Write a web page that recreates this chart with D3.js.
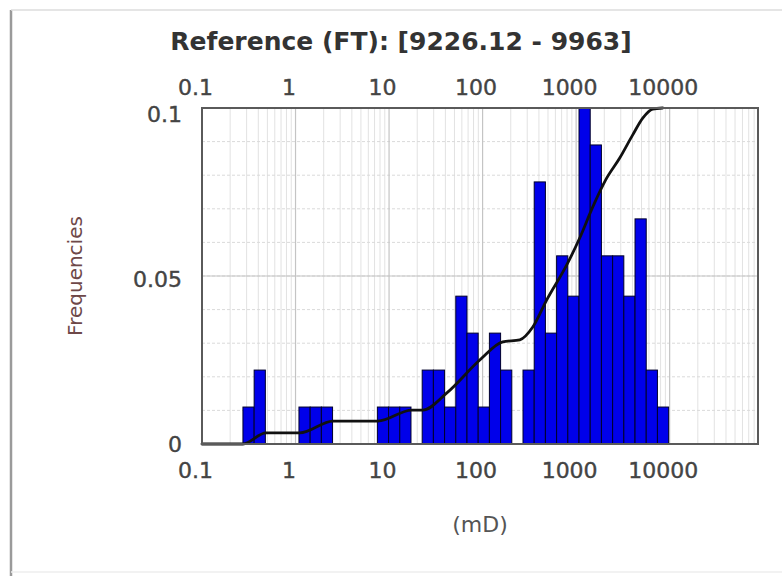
<!DOCTYPE html>
<html>
<head>
<meta charset="utf-8">
<script src="https://cdn.jsdelivr.net/npm/d3@7"></script>
<style>
  body { margin: 0; background: #fff; }
  svg { display: block; font-family: "DejaVu Sans", Verdana, sans-serif; }
</style>
</head>
<body>
<div id="chart"></div>
<script>
const WIDTH = 782
const HEIGHT = 576

const title = 'Reference (FT): [9226.12 - 9963]'
const xLabel = '(mD)'
const yLabel = 'Frequencies'
const xTicks = [0.1, 1, 10, 100, 1000, 10000]
const xTickLabels = ['0.1', '1', '10', '100', '1000', '10000']
const yTicks = [0, 0.05, 0.1]
const yTickLabels = ['0', '0.05', '0.1']

// log spaced histogram, binned range in mD
const binRange = [0.274, 9750]
const frequencies = [
    0.011, 0.022, 0, 0, 0, 0.011, 0.011, 0.011, 0, 0,
    0, 0, 0.011, 0.011, 0.011, 0, 0.022, 0.022, 0.011, 0.044,
    0.033, 0.011, 0.033, 0.022, 0, 0.022, 0.078, 0.033, 0.056, 0.044,
    0.1, 0.089, 0.056, 0.056, 0.044, 0.067, 0.022, 0.011
]

// cumulative curve (drawn on the frequency axis)
const cumPerm = [0.1, 0.274, 0.483, 1.11, 2.51, 7.59, 17.5, 23, 41.5, 93.4, 164, 250, 344, 485, 794, 1092, 1503, 2070, 2923, 4027, 5152, 6580, 8410]
const cumFreq = [0, 0, 0.0033, 0.0033, 0.0068, 0.0068, 0.0101, 0.0101, 0.0152, 0.025, 0.0304, 0.031, 0.0348, 0.0429, 0.0533, 0.0613, 0.0705, 0.0786, 0.0851, 0.092, 0.097, 0.0997, 0.1]

const plot = { left: 202, right: 758, top: 108, bottom: 444 }

const svg = d3.select('#chart').append('svg').attr('width', WIDTH).attr('height', HEIGHT)

// outer panel frame
svg.append('line').attr('x1', 11).attr('x2', 11).attr('y1', 10).attr('y2', HEIGHT)
    .attr('stroke', '#9a9a9a').attr('stroke-width', 2.5)
svg.append('line').attr('x1', 11).attr('x2', WIDTH).attr('y1', 10).attr('y2', 10)
    .attr('stroke', '#dcdcdc').attr('stroke-width', 1.5)
svg.append('line').attr('x1', 11).attr('x2', WIDTH).attr('y1', 572).attr('y2', 572)
    .attr('stroke', '#eeeeee').attr('stroke-width', 1.5)

const x = d3.scaleLog().domain([0.1, 88000]).range([plot.left, plot.right])
const y = d3.scaleLinear().domain([0, 0.1]).range([plot.bottom, plot.top])

svg.append('rect')
    .attr('x', plot.left).attr('y', plot.top)
    .attr('width', plot.right - plot.left).attr('height', plot.bottom - plot.top)
    .attr('fill', '#fff')

svg.append('clipPath').attr('id', 'clip').append('rect')
    .attr('x', plot.left).attr('y', plot.top)
    .attr('width', plot.right - plot.left).attr('height', plot.bottom - plot.top)

const grid = svg.append('g').attr('clip-path', 'url(#clip)')

// minor grid
grid.selectAll('.vminor')
    .data(x.ticks().filter(v => !xTicks.includes(v)))
    .enter().append('line')
    .attr('x1', d => x(d)).attr('x2', d => x(d))
    .attr('y1', plot.top).attr('y2', plot.bottom)
    .attr('stroke', '#e2e2e2').attr('stroke-width', 1)
grid.selectAll('.hminor')
    .data(y.ticks(10))
    .enter().append('line')
    .attr('x1', plot.left).attr('x2', plot.right)
    .attr('y1', d => y(d)).attr('y2', d => y(d))
    .attr('stroke', '#dadada').attr('stroke-width', 1).attr('stroke-dasharray', '3,2')

// major grid
grid.selectAll('.vmajor')
    .data(xTicks)
    .enter().append('line')
    .attr('x1', d => x(d)).attr('x2', d => x(d))
    .attr('y1', plot.top).attr('y2', plot.bottom)
    .attr('stroke', '#c4c4c4').attr('stroke-width', 1.2)
grid.selectAll('.hmajor')
    .data(yTicks)
    .enter().append('line')
    .attr('x1', plot.left).attr('x2', plot.right)
    .attr('y1', d => y(d)).attr('y2', d => y(d))
    .attr('stroke', '#c4c4c4').attr('stroke-width', 1.2)

// bars
const lo = Math.log10(binRange[0]), hi = Math.log10(binRange[1])
const step = (hi - lo) / frequencies.length
const bins = frequencies.map((f, i) => ({
    x0: Math.pow(10, lo + i * step),
    x1: Math.pow(10, lo + (i + 1) * step),
    f: f
}))

grid.selectAll('.bar')
    .data(bins.filter(d => d.f > 0))
    .enter().append('rect')
    .attr('x', d => x(d.x0))
    .attr('width', d => x(d.x1) - x(d.x0))
    .attr('y', d => y(d.f))
    .attr('height', d => y(0) - y(d.f))
    .attr('fill', '#0000ea')
    .attr('stroke', '#00002a')
    .attr('stroke-width', 1)

// cumulative line
const line = d3.line()
    .x(d => x(d[0]))
    .y(d => y(d[1]))
    .curve(d3.curveMonotoneX)

svg.append('path')
    .datum(d3.zip(cumPerm, cumFreq))
    .attr('d', line)
    .attr('fill', 'none')
    .attr('stroke', '#111')
    .attr('stroke-width', 2.8)
    .attr('stroke-linejoin', 'round')
    .attr('stroke-linecap', 'round')

// plot frame
svg.append('rect')
    .attr('x', plot.left).attr('y', plot.top)
    .attr('width', plot.right - plot.left).attr('height', plot.bottom - plot.top)
    .attr('fill', 'none').attr('stroke', '#5a5a5a').attr('stroke-width', 2)

// axes
function styleAxis(g) {
    g.select('.domain').remove()
    g.selectAll('.tick line').remove()
    g.selectAll('.tick text')
        .attr('fill', '#444')
        .attr('stroke', '#444')
        .attr('stroke-width', 0.4)
        .style('font-size', '22px')
        .style('font-family', '"DejaVu Sans", Verdana, sans-serif')
}

const fmt = d => xTickLabels[xTicks.indexOf(d)]

svg.append('g')
    .attr('transform', `translate(-7,${plot.top})`)
    .call(d3.axisTop(x).tickValues(xTicks).tickFormat(fmt).tickSize(0).tickPadding(13))
    .call(styleAxis)

svg.append('g')
    .attr('transform', `translate(-7,${plot.bottom})`)
    .call(d3.axisBottom(x).tickValues(xTicks).tickFormat(fmt).tickSize(0).tickPadding(18))
    .call(styleAxis)

const yAxis = svg.append('g')
    .attr('transform', `translate(${plot.left},0)`)
    .call(d3.axisLeft(y).tickValues(yTicks).tickFormat(d => yTickLabels[yTicks.indexOf(d)]).tickSize(0).tickPadding(20))
    .call(styleAxis)
// the top label sits a little below the frame in the original
yAxis.selectAll('.tick').filter(d => d === 0.1).select('text').attr('y', 6)
yAxis.selectAll('.tick').filter(d => d === 0.05).select('text').attr('y', 3)

// texts
svg.append('text')
    .attr('x', 401).attr('y', 50)
    .attr('text-anchor', 'middle')
    .attr('font-size', 25).attr('font-weight', 'bold')
    .attr('fill', '#333')
    .text(title)

svg.append('text')
    .attr('x', (plot.left + plot.right) / 2).attr('y', 532)
    .attr('text-anchor', 'middle')
    .attr('font-size', 22)
    .attr('fill', '#555')
    .text(xLabel)

svg.append('text')
    .attr('transform', 'translate(82,276) rotate(-90)')
    .attr('text-anchor', 'middle')
    .attr('font-size', 20)
    .attr('fill', '#6e4848')
    .text(yLabel)
</script>
</body>
</html>
